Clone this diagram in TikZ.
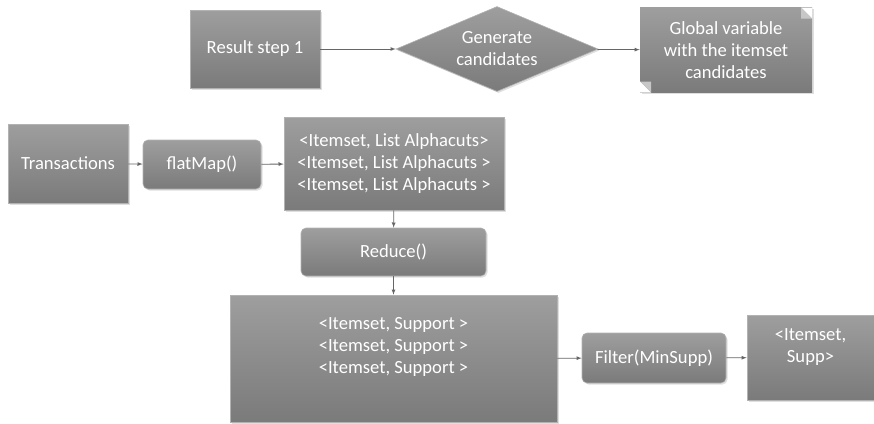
\documentclass[tikz,border=0pt]{standalone}
\usepackage{fontspec}
\setmainfont{Carlito}
\usetikzlibrary{shapes, arrows, shadows}

\begin{document}
\begin{tikzpicture}[x=1pt, y=-1pt,
    box/.style = {draw=black!30, line width=0.6pt, top color=black!38, bottom color=black!52,
                  text=white, align=center, inner sep=0pt,
                  font=\fontsize{18.6}{22}\selectfont,
                  drop shadow={opacity=0.25, shadow xshift=1.5pt, shadow yshift=-1.5pt}},
    rbox/.style = {box, rounded corners=5pt},
    dia/.style = {box, diamond, aspect=2.4},
    edge/.style = {draw=black!60, line width=0.8pt, -latex}]
                \useasboundingbox (0,0) rectangle (874,423);

                \node[box, minimum width=130, minimum height=78] at (255,49) (res) {Result step 1};
                \node[dia, minimum width=202, minimum height=85] at (497,49) (gen) {Generate\\candidates};
                \node[box, draw=none, minimum width=172, minimum height=85,
                      path picture={
                        \fill[white] ([xshift=-11pt]path picture bounding box.north east) -- (path picture bounding box.north east) -- ([yshift=-11pt]path picture bounding box.north east) -- cycle;
                        \fill[black!22] ([xshift=-11pt]path picture bounding box.north east) -- ([yshift=-11pt]path picture bounding box.north east) -- ([xshift=-11pt,yshift=-11pt]path picture bounding box.north east) -- cycle;
                        \fill[white] ([xshift=11pt]path picture bounding box.south west) -- (path picture bounding box.south west) -- ([yshift=11pt]path picture bounding box.south west) -- cycle;
                        \fill[black!22] ([xshift=11pt]path picture bounding box.south west) -- ([yshift=11pt]path picture bounding box.south west) -- ([xshift=11pt,yshift=11pt]path picture bounding box.south west) -- cycle;
                      }] at (726,50) (glob) {Global variable\\with the itemset\\candidates};

                \node[box, minimum width=120, minimum height=79] at (68,163.5) (trans) {Transactions};
                \node[rbox, minimum width=118, minimum height=49] at (202,164.5) (flat) {flatMap()};
                \node[box, minimum width=220, minimum height=93] at (394,163.5) (alpha)
                      {<Itemset, List Alphacuts>\\<Itemset, List Alphacuts >\\<Itemset, List Alphacuts >};
                \node[rbox, minimum width=185, minimum height=48] at (393.5,252) (reduce) {Reduce()};
                \node[box, minimum width=327, minimum height=127, text depth=26pt] at (393.5,358.5) (supp)
                      {<Itemset, Support >\\<Itemset, Support >\\<Itemset, Support >};
                \node[rbox, minimum width=144, minimum height=50] at (654,358) (filter) {Filter(MinSupp)};
                \node[box, minimum width=127, minimum height=85, text depth=23pt] at (810.5,357.5) (result) {<Itemset,\\Supp>};

                \draw[edge] (res) -- (gen);
                \draw[edge] (gen) -- (glob);
                \draw[edge] (trans) -- (flat);
                \draw[edge] (flat) -- (alpha);
                \draw[edge] (alpha) -- (reduce);
                \draw[edge] (reduce) -- (supp);
                \draw[edge] (supp) -- (filter);
                \draw[edge] (filter) -- (result);
\end{tikzpicture}
\end{document}
